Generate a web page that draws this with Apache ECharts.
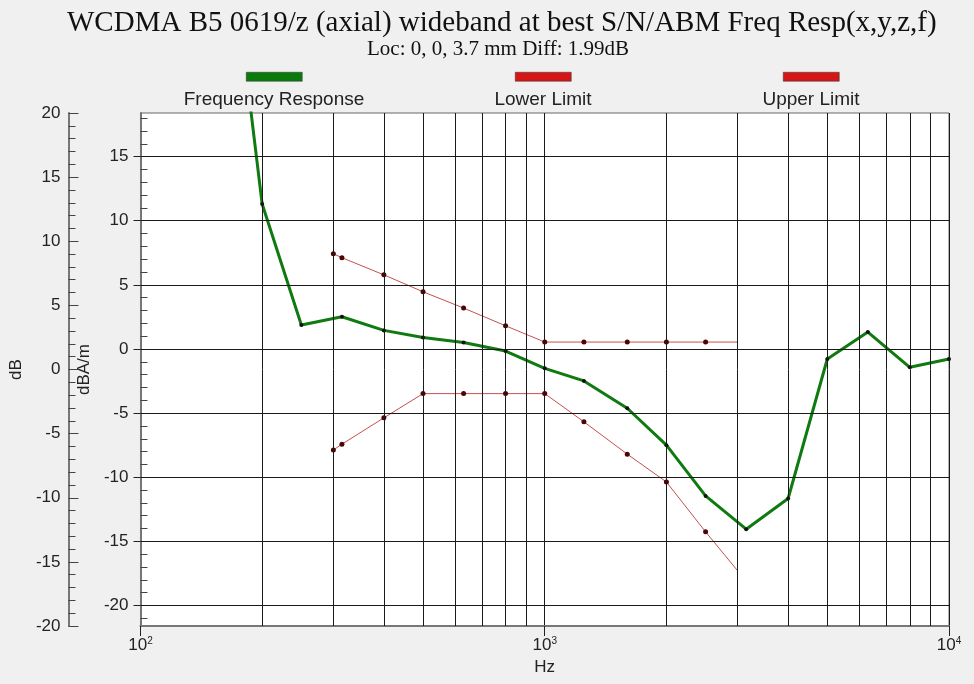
<!DOCTYPE html>
<html>
<head>
    <meta charset="UTF-8">
    <title>Freq Resp</title>
    <script src="https://cdn.jsdelivr.net/npm/echarts@6/dist/echarts.min.js"></script>
    <style>
        html, body { margin: 0; padding: 0; background: #f0f0f0; }
    </style>
</head>
<body>
    <div id="main" style="width: 974px;height:684px;"></div>
    <script type="text/javascript">
        // 频响数据 (Hz, dBA/m)
        var respFreq = [160, 200, 250, 315, 400, 500, 630, 800, 1000, 1250, 1600, 2000, 2500, 3150, 4000, 5000, 6300, 8000, 10000];
        var respVal = [36.5, 11.3, 1.87, 2.51, 1.45, 0.9, 0.51, -0.16, -1.51, -2.49, -4.62, -7.5, -11.46, -14.05, -11.66, -0.78, 1.32, -1.43, -0.78];

        var limitFreq = [300, 315, 400, 500, 630, 800, 1000, 1250, 1600, 2000, 2500, 3000];
        var upperVal = [7.43, 7.12, 5.78, 4.46, 3.19, 1.81, 0.54, 0.54, 0.54, 0.54, 0.54, 0.54];
        var lowerVal = [-7.88, -7.42, -5.37, -3.48, -3.48, -3.48, -3.48, -5.68, -8.2, -10.37, -14.26, -17.29];

        // 网格线
        var minorFreqs = [200, 300, 400, 500, 600, 700, 800, 900, 2000, 3000, 4000, 5000, 6000, 7000, 8000, 9000];
        var dbaTicks = [-20, -15, -10, -5, 0, 5, 10, 15];
        var dbaMinor = [-21, -19, -18, -17, -16, -14, -13, -12, -11, -9, -8, -7, -6, -4, -3, -2, -1, 1, 2, 3, 4, 6, 7, 8, 9, 11, 12, 13, 14, 16, 17, 18];

        var legendNames = ['Frequency Response', 'Lower Limit', 'Upper Limit'];

        var myChart = echarts.init(document.getElementById('main'));

        function pairs(xs, ys, lastNoSymbol) {
            return xs.map(function (f, i) {
                if (lastNoSymbol && i === xs.length - 1) {
                    return { value: [f, ys[i]], symbol: 'none' };
                }
                return [f, ys[i]];
            });
        }

        var gridMarks = minorFreqs.map(function (f) { return { xAxis: f }; })
            .concat(dbaTicks.map(function (v) { return { yAxis: v }; }));

        var sans = 'Liberation Sans';
        var legendX = [274, 543, 811];
        var legendColor = ['#0b7a0b', '#d41616', '#d41616'];
        var graphics = [];
        legendNames.forEach(function (n, i) {
            graphics.push({
                type: 'rect', left: legendX[i] - 28, top: 72,
                shape: { width: 56, height: 9 },
                style: { fill: legendColor[i], stroke: '#333', lineWidth: 0.5 }
            });
            graphics.push({
                type: 'text', x: legendX[i], y: 100,
                style: { text: n, fill: '#222', font: '19px ' + sans, textAlign: 'center', textVerticalAlign: 'middle' }
            });
        });

        myChart.setOption({
            backgroundColor: '#f0f0f0',
            animation: false,
            title: [{
                text: 'WCDMA B5 0619/z (axial) wideband at best S/N/ABM Freq Resp(x,y,z,f)',
                left: 62, top: 4,
                textStyle: { fontFamily: 'Liberation Serif', fontSize: 29, fontWeight: 'normal', color: '#111' }
            }, {
                text: 'Loc: 0, 0, 3.7 mm Diff: 1.99dB',
                left: 362, top: 34,
                textStyle: { fontFamily: 'Liberation Serif', fontSize: 21, fontWeight: 'normal', color: '#111' }
            }],
            graphic: graphics,
            grid: {
                left: 140, right: 25, top: 113, bottom: 58,
                show: true, backgroundColor: '#fff', borderColor: '#666', borderWidth: 1
            },
            xAxis: {
                type: 'log', logBase: 10, min: 100, max: 10000,
                name: 'Hz', nameLocation: 'middle', nameGap: 28,
                nameTextStyle: { fontFamily: sans, fontSize: 17, color: '#222' },
                axisLine: { onZero: false, lineStyle: { color: '#777', width: 2 } },
                axisTick: { length: 10, lineStyle: { color: '#222' } },
                axisLabel: {
                    margin: 10, showMinLabel: true, showMaxLabel: true,
                    formatter: function (v) {
                        return '{b|10}{s|' + Math.round(Math.log10(v)) + '}';
                    },
                    rich: {
                        b: { fontFamily: sans, fontSize: 17, color: '#222' },
                        s: { fontFamily: sans, fontSize: 10, color: '#222', padding: [0, 0, 9, 0] }
                    }
                },
                splitLine: { show: true, lineStyle: { color: '#1a1a1a', width: 1 } }
            },
            yAxis: [{
                type: 'value', min: -20, max: 20, interval: 5,
                position: 'left', offset: 72,
                name: 'dB', nameLocation: 'middle', nameGap: 40, nameRotate: 90,
                nameTextStyle: { fontFamily: sans, fontSize: 17, color: '#222' },
                axisLine: { show: true, onZero: false, lineStyle: { color: '#777', width: 2 } },
                axisTick: { show: true, inside: true, length: 10, lineStyle: { color: '#444' } },
                minorTick: { show: true, splitNumber: 5, length: 7, lineStyle: { color: '#444' } },
                axisLabel: { margin: 8, fontFamily: sans, fontSize: 17, color: '#222' },
                splitLine: { show: false }
            }, {
                type: 'value', min: -21.6, max: 18.4,
                position: 'left', offset: 0,
                name: 'dBA/m', nameLocation: 'middle', nameGap: 42, nameRotate: 90,
                nameTextStyle: { fontFamily: sans, fontSize: 17, color: '#222' },
                axisLine: { show: true, onZero: false, lineStyle: { color: '#777', width: 2 } },
                axisTick: { show: true, length: 7, customValues: dbaTicks, lineStyle: { color: '#222' } },
                axisLabel: { margin: 12, customValues: dbaTicks, fontFamily: sans, fontSize: 17, color: '#222' },
                splitLine: { show: false }
            }, {
                type: 'value', min: -21.6, max: 18.4,
                position: 'left', offset: 0,
                axisLine: { show: false, onZero: false },
                axisTick: { show: true, inside: true, length: 7, customValues: dbaMinor, lineStyle: { color: '#444' } },
                axisLabel: { show: false, customValues: dbaMinor },
                splitLine: { show: false }
            }],
            series: [{
                type: 'line', name: 'grid', data: [], yAxisIndex: 1, z: 1, silent: true,
                markLine: {
                    silent: true, symbol: 'none', label: { show: false },
                    lineStyle: { color: '#1a1a1a', width: 1, type: 'solid' },
                    data: gridMarks
                }
            }, {
                type: 'line', name: legendNames[2], yAxisIndex: 1, z: 3,
                data: pairs(limitFreq, upperVal, true),
                symbol: 'circle', symbolSize: 5,
                itemStyle: { color: '#4a0505' },
                lineStyle: { color: '#c45050', width: 1 }
            }, {
                type: 'line', name: legendNames[1], yAxisIndex: 1, z: 3,
                data: pairs(limitFreq, lowerVal, true),
                symbol: 'circle', symbolSize: 5,
                itemStyle: { color: '#4a0505' },
                lineStyle: { color: '#c45050', width: 1 }
            }, {
                type: 'line', name: legendNames[0], yAxisIndex: 1, z: 4,
                data: pairs(respFreq, respVal, false),
                symbol: 'circle', symbolSize: 4,
                itemStyle: { color: '#111' },
                lineStyle: { color: '#0f7a0f', width: 3 }
            }]
        });
    </script>
</body>
</html>
